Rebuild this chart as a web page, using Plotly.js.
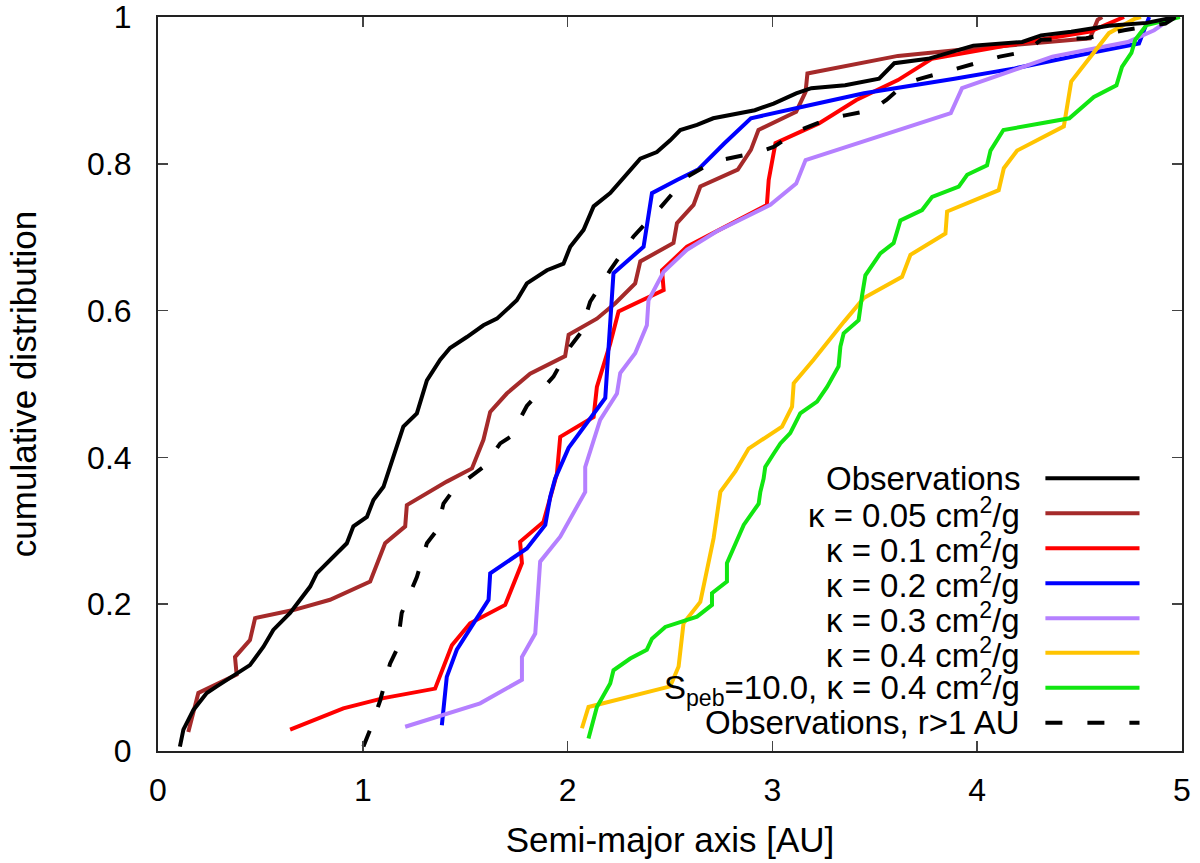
<!DOCTYPE html>
<html>
<head>
<meta charset="utf-8">
<script src="https://cdn.plot.ly/plotly-3.0.1.min.js"></script>
<style>html,body{margin:0;padding:0;background:#fff;}#chart{width:1200px;height:863px;}</style>
</head>
<body>
<div id="chart"></div>
<script>
// ---- data ----
const obsX = [0.107,0.124,0.173,0.238,0.287,0.384,0.449,0.515,0.563,0.645,0.694,0.743,0.775,0.824,0.857,0.922,0.954,1.020,1.052,1.101,1.133,1.166,1.198,1.264,1.313,1.378,1.426,1.508,1.589,1.655,1.752,1.801,1.899,1.980,2.013,2.078,2.127,2.208,2.290,2.355,2.436,2.501,2.550,2.632,2.711,2.914,3.006,3.116,3.190,3.355,3.521,3.595,3.760,3.981,4.220,4.312,4.459,4.643,4.827,4.970];
const obsY = [0.006,0.029,0.056,0.079,0.088,0.106,0.117,0.142,0.165,0.188,0.206,0.224,0.242,0.256,0.265,0.283,0.306,0.319,0.342,0.360,0.387,0.415,0.442,0.460,0.505,0.533,0.549,0.564,0.580,0.589,0.614,0.637,0.655,0.664,0.687,0.710,0.742,0.760,0.787,0.807,0.816,0.832,0.846,0.853,0.862,0.873,0.882,0.896,0.903,0.907,0.916,0.937,0.943,0.961,0.966,0.975,0.980,0.988,0.992,1.000];

const k005X = [0.148,0.197,0.384,0.376,0.449,0.474,0.661,0.840,1.036,1.109,1.207,1.215,1.410,1.533,1.589,1.622,1.703,1.817,1.988,2.005,2.143,2.233,2.330,2.355,2.517,2.534,2.615,2.648,2.831,2.895,2.932,3.116,3.162,3.171,3.613,3.944,4.551,4.588,4.610];
const k005Y = [0.026,0.079,0.104,0.128,0.151,0.181,0.192,0.206,0.231,0.283,0.306,0.335,0.367,0.385,0.424,0.462,0.487,0.514,0.538,0.567,0.589,0.610,0.637,0.667,0.692,0.719,0.744,0.769,0.792,0.819,0.846,0.871,0.898,0.923,0.947,0.956,0.971,0.996,1.000];

const k01X = [0.645,0.905,1.101,1.353,1.435,1.524,1.695,1.777,1.768,1.882,1.948,1.964,2.127,2.143,2.208,2.249,2.469,2.461,2.583,2.973,2.982,3.015,3.227,3.410,3.613,3.778,4.238,4.551,4.717];
const k01Y = [0.029,0.058,0.072,0.085,0.144,0.174,0.199,0.256,0.285,0.312,0.378,0.428,0.455,0.496,0.555,0.599,0.628,0.655,0.687,0.744,0.778,0.828,0.855,0.887,0.914,0.943,0.966,0.980,1.000];

const k02X = [1.386,1.410,1.459,1.540,1.614,1.622,1.801,1.891,1.915,1.939,2.005,2.184,2.208,2.224,2.371,2.412,2.534,2.637,2.766,2.895,3.153,3.447,3.889,4.183,4.551,4.790,4.827,4.840];
const k02Y = [0.035,0.101,0.138,0.174,0.206,0.242,0.276,0.308,0.346,0.371,0.413,0.481,0.574,0.651,0.687,0.760,0.778,0.792,0.828,0.862,0.878,0.896,0.916,0.930,0.951,0.964,0.991,1.000];

const k03X = [1.207,1.573,1.777,1.777,1.842,1.866,1.964,2.086,2.086,2.159,2.241,2.257,2.330,2.387,2.395,2.469,2.583,2.729,2.990,3.116,3.162,3.871,3.926,4.367,4.735,4.864,4.937,4.960];
const k03Y = [0.033,0.065,0.097,0.128,0.160,0.258,0.292,0.353,0.387,0.451,0.487,0.515,0.542,0.580,0.614,0.653,0.683,0.708,0.744,0.773,0.805,0.869,0.903,0.946,0.966,0.982,0.996,1.000];

const k04X = [2.070,2.102,2.501,2.542,2.566,2.648,2.713,2.746,2.819,2.884,3.047,3.096,3.104,3.201,3.350,3.446,3.633,3.674,3.845,3.853,4.105,4.130,4.195,4.423,4.459,4.570,4.643,4.772,4.800];
const k04Y = [0.031,0.060,0.088,0.115,0.174,0.203,0.290,0.353,0.381,0.412,0.442,0.469,0.501,0.533,0.585,0.617,0.646,0.676,0.705,0.735,0.764,0.794,0.818,0.851,0.912,0.951,0.978,0.998,1.000];

const speb10X = [2.102,2.143,2.208,2.224,2.306,2.387,2.412,2.477,2.632,2.705,2.705,2.778,2.778,2.860,2.933,2.941,2.957,2.965,3.006,3.039,3.087,3.136,3.218,3.267,3.323,3.332,3.348,3.421,3.437,3.454,3.527,3.592,3.625,3.731,3.780,3.910,3.951,4.048,4.065,4.128,4.450,4.570,4.680,4.707,4.753,4.772,4.827,4.990];
const speb10Y = [0.017,0.060,0.092,0.110,0.126,0.138,0.153,0.169,0.183,0.199,0.215,0.231,0.256,0.308,0.337,0.353,0.371,0.387,0.405,0.419,0.433,0.460,0.476,0.496,0.524,0.551,0.569,0.587,0.619,0.648,0.678,0.692,0.723,0.737,0.755,0.769,0.785,0.798,0.818,0.846,0.862,0.891,0.907,0.932,0.951,0.969,0.989,1.000];

const obsFarX = [1.003,1.036,1.085,1.133,1.166,1.190,1.264,1.313,1.362,1.394,1.443,1.589,1.671,1.720,1.801,1.931,2.013,2.062,2.110,2.208,2.322,2.452,2.582,2.711,2.932,3.006,3.134,3.282,3.355,3.484,3.557,3.650,3.723,3.926,4.110,4.238,4.312,4.533,4.717,4.919,4.970];
const obsFarY = [0.006,0.029,0.069,0.119,0.138,0.188,0.237,0.283,0.301,0.337,0.356,0.387,0.419,0.428,0.470,0.510,0.551,0.569,0.612,0.655,0.701,0.740,0.782,0.803,0.816,0.823,0.846,0.862,0.866,0.873,0.887,0.910,0.916,0.932,0.946,0.953,0.969,0.971,0.982,0.991,1.000];

const seriesNames = [
  "Observations",
  "κ = 0.05 cm<sup>2</sup>/g",
  "κ = 0.1 cm<sup>2</sup>/g",
  "κ = 0.2 cm<sup>2</sup>/g",
  "κ = 0.3 cm<sup>2</sup>/g",
  "κ = 0.4 cm<sup>2</sup>/g",
  "S<sub>peb</sub>=10.0, κ = 0.4 cm<sup>2</sup>/g",
  "Observations, r&gt;1 AU"
];
const xTickVals = [0,1,2,3,4,5];
const yTickVals = [0,0.2,0.4,0.6,0.8,1];
const yTickText = ["0","0.2","0.4","0.6","0.8","1"];

// ---- styles ----
const seriesData = [[obsX,obsY],[k005X,k005Y],[k01X,k01Y],[k02X,k02Y],[k03X,k03Y],[k04X,k04Y],[speb10X,speb10Y],[obsFarX,obsFarY]];
const colors = ["#000000","#a52a2a","#ff0000","#0000ff","#b580ff","#ffc400","#11e611","#000000"];
const dashes = ["solid","solid","solid","solid","solid","solid","solid","17px,25px"];
const widths = [4,4,4,4,4,4,4,4];

const order = [1,2,3,4,5,6,7,0];
const traces = order.map(i => ({
  type: "scatter", mode: "lines",
  x: seriesData[i][0], y: seriesData[i][1],
  name: seriesNames[i],
  line: {color: colors[i], width: widths[i], dash: dashes[i]},
  showlegend: false, hoverinfo: "skip"
}));

// legend: right-aligned text with the sample line on its right
const FONT = "Liberation Sans, Arial, Helvetica, sans-serif";
const legTextX = 0.8442, legLine0 = 0.8666, legLine1 = 0.9585;
const legRowY = [0.3715,0.3238,0.2762,0.2285,0.1808,0.1339,0.0862,0.0386];
const annotations = [], shapes = [];
seriesNames.forEach((nm, i) => {
  annotations.push({xref:"paper", yref:"paper", x: legTextX, y: legRowY[i], xanchor:"right", yanchor:"middle",
    text: nm, showarrow:false, font:{family:FONT, size:33, color:"#000"}});
  shapes.push({type:"line", xref:"paper", yref:"paper", x0: legLine0, x1: legLine1, y0: legRowY[i], y1: legRowY[i],
    line:{color: colors[i], width: widths[i], dash: dashes[i]}});
});

const axisCommon = {
  showgrid:false, zeroline:false, showline:true, linecolor:"#222", linewidth:2,
  mirror:"allticks", ticks:"inside", ticklen:10, tickwidth:1.5, tickcolor:"#444",
  tickfont:{family:FONT, size:32, color:"#000"}, automargin:false, ticklabeloverflow:"allow"
};

const layout = {
  width:1200, height:863,
  margin:{l:158, r:18, t:17, b:112},
  paper_bgcolor:"#fff", plot_bgcolor:"#fff",
  showlegend:false,
  xaxis: Object.assign({}, axisCommon, {
    range:[0,5], tickmode:"array", tickvals:xTickVals, ticklabelstandoff:10,
    title:{text:"Semi-major axis [AU]", font:{family:FONT, size:35, color:"#000"}, standoff:20}
  }),
  yaxis: Object.assign({}, axisCommon, {
    range:[0,1], tickmode:"array", tickvals:yTickVals, ticktext:yTickText, ticklabelstandoff:18,
    title:{text:"cumulative distribution", font:{family:FONT, size:35, color:"#000"}, standoff:40}
  }),
  annotations: annotations,
  shapes: shapes
};

Plotly.newPlot("chart", traces, layout, {staticPlot:true, displayModeBar:false});
</script>
</body>
</html>
